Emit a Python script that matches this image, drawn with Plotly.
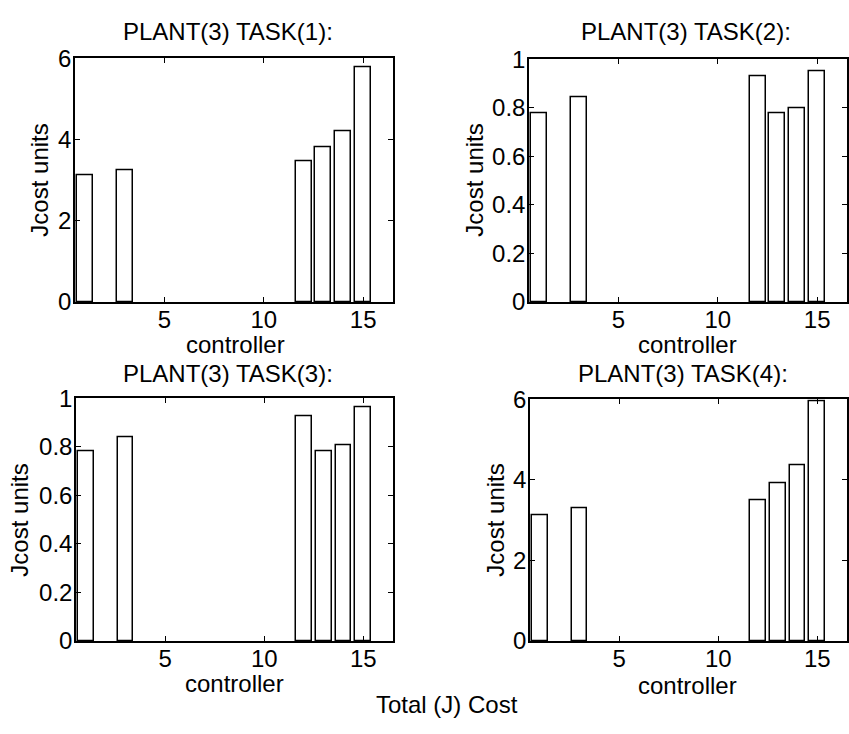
import plotly.graph_objects as go

controllers = [1, 3, 12, 13, 14, 15]
task1 = [3.13, 3.25, 3.47, 3.81, 4.21, 5.77]
task2 = [0.777, 0.845, 0.932, 0.777, 0.799, 0.951]
task3 = [0.780, 0.841, 0.927, 0.783, 0.807, 0.963]
task4 = [3.13, 3.29, 3.50, 3.92, 4.35, 5.95]
titles = ["PLANT(3) TASK(1):", "PLANT(3) TASK(2):", "PLANT(3) TASK(3):", "PLANT(3) TASK(4):"]
yranges = [[0, 6], [0, 1], [0, 1], [0, 6]]
yticks = [[0, 2, 4, 6], [0, 0.2, 0.4, 0.6, 0.8, 1], [0, 0.2, 0.4, 0.6, 0.8, 1], [0, 2, 4, 6]]
xticks = [5, 10, 15]

W, H = 849, 734
FONT = "Liberation Sans, Arial, Helvetica, sans-serif"
FS = 24

# pixel boxes of the four axes: (left, right, top, bottom)
boxes = [(75, 393, 46, 299), (529, 847, 47, 299), (76, 393, 399, 651), (530, 847, 400, 651)]

fig = go.Figure()
data = [task1, task2, task3, task4]
for i, vals in enumerate(data):
    n = "" if i == 0 else str(i + 1)
    fig.add_trace(go.Bar(
        x=controllers, y=vals, width=0.8,
        marker=dict(color="white", line=dict(color="black", width=1.5)),
        xaxis="x" + n, yaxis="y" + n, showlegend=False,
    ))
    l, r, t, b = boxes[i]
    common = dict(showline=True, linecolor="black", linewidth=1.5, mirror="ticks",
                  ticks="inside", ticklen=5, tickwidth=1, tickcolor="black",
                  showgrid=False, zeroline=False,
                  tickfont=dict(family=FONT, size=FS, color="black"))
    fig.layout["xaxis" + n] = dict(domain=[l / W, r / W], range=[0.5, 16.5],
                                   tickvals=xticks, anchor="y" + n,
                                   ticklabelstandoff=-5, **common)
    fig.layout["yaxis" + n] = dict(domain=[1 - b / H, 1 - t / H], range=yranges[i],
                                   tickvals=yticks[i], anchor="x" + n,
                                   ticklabelstandoff=-3, **common)

ann = []
title_pos = [(228, 18), (686, 18), (228, 373), (683, 373)]
xl_pos = [(235, 343), (687, 343), (234, 695), (687, 697)]
yl_pos = [(40, 173), (475, 173), (20, 526), (496, 526)]
for i in range(4):
    ann.append(dict(text=titles[i], x=title_pos[i][0] / W, y=1 - title_pos[i][1] / H,
                    xref="paper", yref="paper", showarrow=False,
                    xanchor="center", yanchor="middle",
                    font=dict(family=FONT, size=FS, color="black")))
    ann.append(dict(text="controller", x=xl_pos[i][0] / W, y=1 - xl_pos[i][1] / H,
                    xref="paper", yref="paper", showarrow=False,
                    xanchor="center", yanchor="middle",
                    font=dict(family=FONT, size=FS, color="black")))
    ann.append(dict(text="Jcost units", x=yl_pos[i][0] / W, y=1 - yl_pos[i][1] / H,
                    xref="paper", yref="paper", showarrow=False, textangle=-90,
                    xanchor="center", yanchor="middle",
                    font=dict(family=FONT, size=FS, color="black")))
ann.append(dict(text="Total (J) Cost", x=447 / W, y=1 - 717 / H,
                xref="paper", yref="paper", showarrow=False,
                xanchor="center", yanchor="middle",
                font=dict(family=FONT, size=FS, color="black")))

fig.update_layout(width=W, height=H, margin=dict(l=0, r=0, t=0, b=0),
                  paper_bgcolor="white", plot_bgcolor="white",
                  annotations=ann, bargap=0)
fig.write_html("out.html")
